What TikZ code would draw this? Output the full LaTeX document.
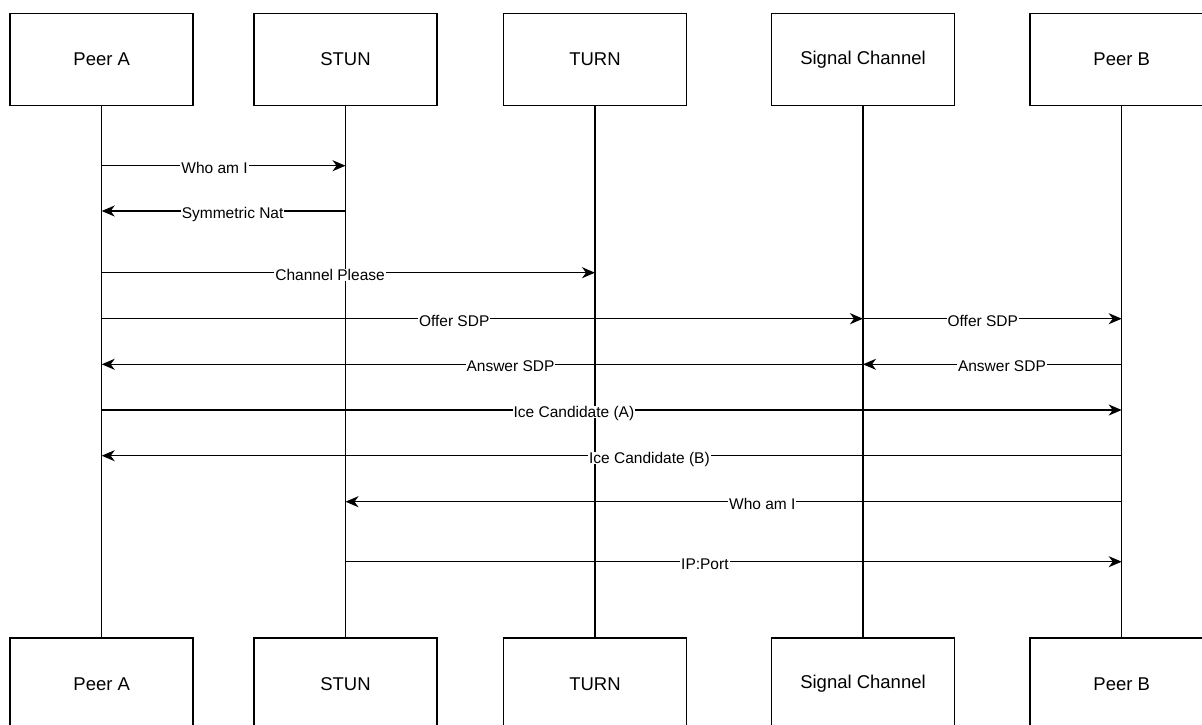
\documentclass[tikz,border=0pt]{standalone}
\usepackage{fontspec}
\setmainfont{Liberation Sans}
\usetikzlibrary{arrows.meta}
\begin{document}
\begin{tikzpicture}[x=1pt,y=-1pt,
  actor/.style={draw=black, line width=1.5pt, fill=white,
    minimum width=183pt, minimum height=92pt, inner sep=0pt,
    font=\fontsize{18.5}{22}\selectfont},
  life/.style={line width=1.5pt},
  msg/.style={line width=1.5pt, -{Stealth[length=13pt,width=11pt,inset=4pt]}},
  lbl/.style={fill=white, inner xsep=1pt, inner ysep=0.5pt,
    text height=11pt, text depth=0pt,
    font=\fontsize{15.5}{18}\selectfont, pos=0.463, yshift=-2pt}
]
\useasboundingbox (0,0) rectangle (1202,724);
\clip (0,0) rectangle (1202,724);

% participants, top row
\node[actor] (paT) at (101.7,59.3) {Peer A};
\node[actor] (stT) at (345.5,59.3) {STUN};
\node[actor] (tuT) at (595,59.3) {TURN};
\node[actor] (scT) at (863,59.3) {Signal Channel};
\node[actor] (pbT) at (1121.7,59.3) {Peer B};

% participants, bottom row
\node[actor] (paB) at (101.7,684) {Peer A};
\node[actor] (stB) at (345.5,684) {STUN};
\node[actor] (tuB) at (595,684) {TURN};
\node[actor] (scB) at (863,684) {Signal Channel};
\node[actor] (pbB) at (1121.7,684) {Peer B};

% lifelines
\draw[life] (paT) -- (paB);
\draw[life] (stT) -- (stB);
\draw[life] (tuT) -- (tuB);
\draw[life] (scT) -- (scB);
\draw[life] (pbT) -- (pbB);

% message rows
\coordinate (r1) at (0,165.7);
\coordinate (r2) at (0,211);
\coordinate (r3) at (0,272.7);
\coordinate (r4) at (0,318.7);
\coordinate (r5) at (0,364.3);
\coordinate (r6) at (0,410);
\coordinate (r7) at (0,455.7);
\coordinate (r8) at (0,501.7);
\coordinate (r9) at (0,561.7);

% messages
\draw[msg] (paT |- r1) -- node[lbl]{Who am I} (stT |- r1);
\draw[msg] (stT |- r2) -- node[lbl]{Symmetric Nat} (paT |- r2);
\draw[msg] (paT |- r3) -- node[lbl]{Channel Please} (tuT |- r3);
\draw[msg] (paT |- r4) -- node[lbl]{Offer SDP} (scT |- r4);
\draw[msg] (scT |- r4) -- node[lbl]{Offer SDP} (pbT |- r4);
\draw[msg] (pbT |- r5) -- node[lbl]{Answer SDP} (scT |- r5);
\draw[msg] (scT |- r5) -- node[lbl]{Answer SDP} (paT |- r5);
\draw[msg] (paT |- r6) -- node[lbl]{Ice Candidate (A)} (pbT |- r6);
\draw[msg] (pbT |- r7) -- node[lbl]{Ice Candidate (B)} (paT |- r7);
\draw[msg] (pbT |- r8) -- node[lbl]{Who am I} (stT |- r8);
\draw[msg] (stT |- r9) -- node[lbl]{IP:Port} (pbT |- r9);
\end{tikzpicture}
\end{document}
